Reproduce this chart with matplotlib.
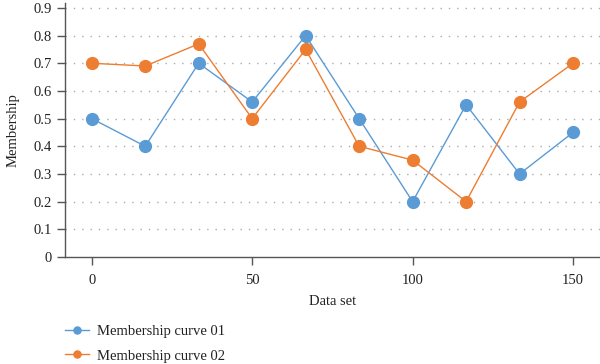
import matplotlib
matplotlib.use("Agg")
import matplotlib.pyplot as plt
import numpy as np

x_vals = [0, 150/9, 300/9, 50, 600/9, 750/9, 100, 1050/9, 1200/9, 150]
curve01 = [0.50, 0.40, 0.70, 0.56, 0.80, 0.50, 0.20, 0.55, 0.30, 0.45]
curve02 = [0.70, 0.69, 0.77, 0.50, 0.75, 0.40, 0.35, 0.20, 0.56, 0.70]
labels = ["Membership curve 01", "Membership curve 02"]
yticks = [0, 0.1, 0.2, 0.3, 0.4, 0.5, 0.6, 0.7, 0.8, 0.9]
xticks = [0, 50, 100, 150]

plt.rcParams['font.family'] = ['Liberation Serif', 'DejaVu Serif']

fig = plt.figure(figsize=(6, 3.64), dpi=100)
ax = fig.add_axes([0.108, 0.294, 0.892, 0.698])

blue = '#5B9BD5'
orange = '#ED7D31'
ax.plot(x_vals, curve01, color=blue, lw=1, marker='o', ms=8.5, label=labels[0], zorder=3)
ax.plot(x_vals, curve02, color=orange, lw=1, marker='o', ms=8.5, label=labels[1], zorder=3)

ax.set_xlim(-8.4, 158.4)
ax.set_ylim(0, 0.918)
ax.set_yticks(yticks)
ax.set_yticklabels(['0'] + [f'{v:.1f}' for v in yticks[1:]])
ax.set_xticks(xticks)

for v in yticks[1:]:
    ax.axhline(v, color='#aaaaaa', lw=1, ls=(0, (1, 5)), zorder=1)

for s in ['top', 'right']:
    ax.spines[s].set_visible(False)
for s in ['left', 'bottom']:
    ax.spines[s].set_color('#555555')
    ax.spines[s].set_linewidth(1)
ax.tick_params(axis='both', direction='out', length=6, width=1, color='#555555',
               labelsize=10.5, labelcolor='#222222')
ax.tick_params(axis='x', pad=6)

ax.set_xlabel('Data set', fontsize=10.5, color='#222222', labelpad=6)
ax.set_ylabel('Membership', fontsize=10.5, color='#222222', labelpad=10)

leg = fig.legend(loc='lower left', bbox_to_anchor=(0.087, -0.032), frameon=False,
                 fontsize=10.5, handlelength=1.6, handletextpad=0.6, labelspacing=0.75,
                 markerscale=0.6)
for t in leg.get_texts():
    t.set_color('#222222')

fig.savefig('out.png', dpi=100)
